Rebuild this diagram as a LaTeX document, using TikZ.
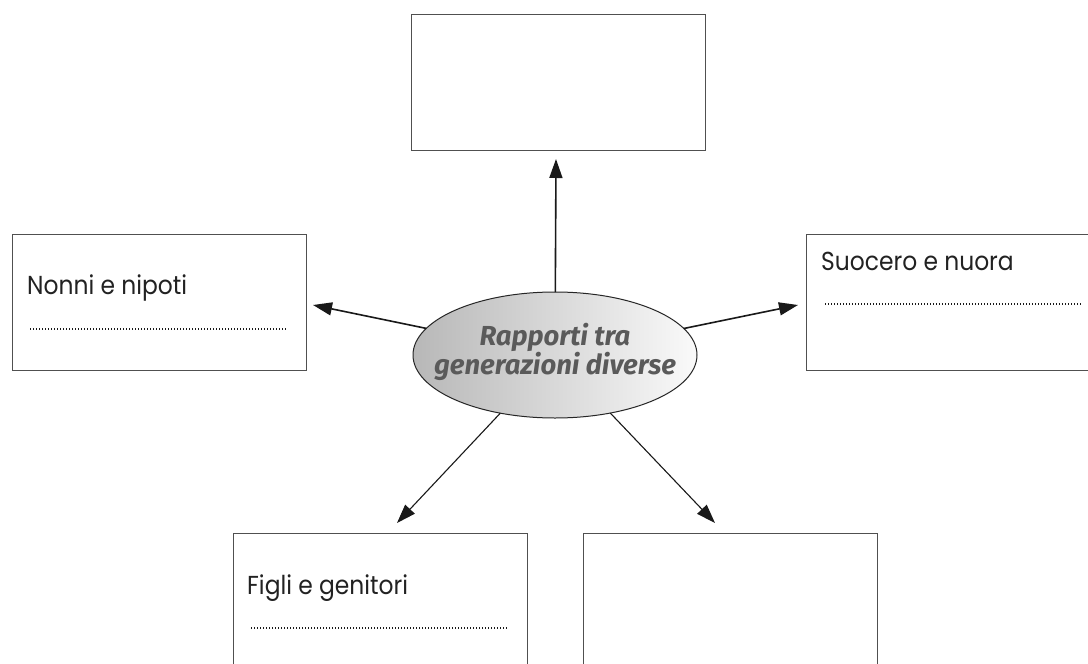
\documentclass[tikz,border=0pt]{standalone}
\usepackage{fontspec}
\setmainfont{Poppins}
\newfontfamily\boxfont[FakeStretch=0.9]{Poppins}
\newfontfamily\ellfont{Fira Sans}
\usetikzlibrary{shapes.geometric,arrows.meta}
\definecolor{boxline}{HTML}{505050}
\definecolor{elltext}{HTML}{5A5A5A}
\definecolor{labeltext}{HTML}{222222}
\tikzset{
  framebox/.style={draw=boxline, line width=1.3pt, minimum width=294pt,
    minimum height=136pt, inner sep=0pt, anchor=north west},
  boxtxt/.style={inner sep=0pt, anchor=base west, text=labeltext,
    font=\boxfont\fontsize{26}{30}\selectfont},
  dotline/.style={draw=black!90, line width=1.2pt, dash pattern=on 1.1pt off 1.9pt},
  arr/.style={draw=black!90, line width=1.6pt, -{Triangle[length=19pt,width=13pt]}},
  thinarr/.style={draw=black!90, line width=1.1pt, -{Triangle[length=19pt,width=13pt]}},
}
\begin{document}
\begin{tikzpicture}[x=1pt,y=-1pt]
  \clip (0,0) rectangle (1088,664);
  \fill[white] (0,0) rectangle (1088,664);
  % boxes
  \node[framebox] (top) at (411,14) {};
  \node[framebox] (left) at (12,234) {};
  \node[framebox] (right) at (806,234) {};
  \node[framebox] (botl) at (233,533) {};
  \node[framebox] (botr) at (583,533) {};
  % texts
  \node[boxtxt] (tnonni) at (27,294) {Nonni e nipoti};
  \node[boxtxt] (tsuocero) at (821,270) {Suocero e nuora};
  \node[boxtxt] (tfigli) at (247,594) {Figli e genitori};
  % dotted lines
  \draw[dotline] (30,329) -- (287,329);
  \draw[dotline] (825,304) -- (1082,304);
  \draw[dotline] (251,628) -- (508,628);
  % ellipse
  \node[ellipse, draw=black!85, line width=1pt, minimum width=284pt,
    minimum height=126pt, inner sep=0pt, outer sep=0pt,
    left color=black!28, right color=black!2] (ell) at (555,355) {};
  \node[align=center, inner sep=0pt, text=elltext,
    font=\ellfont\bfseries\itshape\fontsize{27.5}{27}\selectfont]
    (elltxt) at (555,352) {Rapporti tra\\generazioni diverse};
  % arrow tips
  \coordinate (tipT) at (556,159);
  \coordinate (tipL) at (313,305);
  \coordinate (tipR) at (798,305);
  \coordinate (tipBL) at (397,523);
  \coordinate (tipBR) at (715,523);
  \draw[arr] (ell) -- (tipT);
  \draw[arr] (ell) -- (tipL);
  \draw[arr] (ell) -- (tipR);
  \draw[thinarr] (ell) -- (tipBL);
  \draw[thinarr] (ell) -- (tipBR);
\end{tikzpicture}
\end{document}
